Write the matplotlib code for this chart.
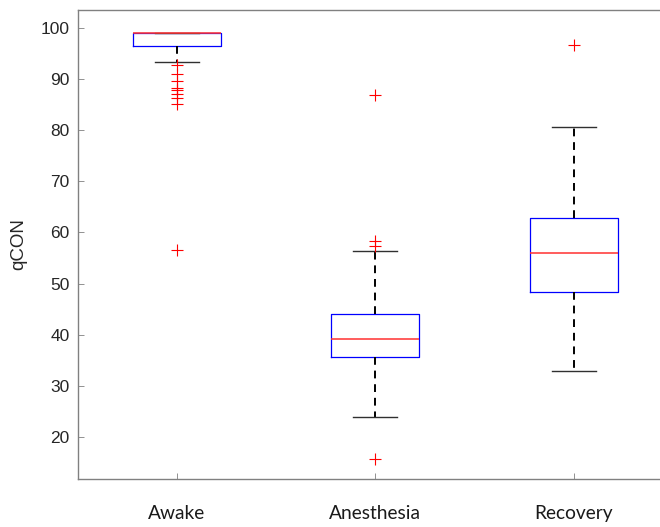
import matplotlib.pyplot as plt

plt.rcParams["font.family"] = ["Liberation Sans", "DejaVu Sans"]

# box statistics
groups = ["Awake", "Anesthesia", "Recovery"]
q1 = [96.5, 35.7, 48.4]
med = [99.0, 39.1, 55.9]
q3 = [99.0, 44.0, 62.8]
whis_lo = [93.3, 23.9, 32.9]
whis_hi = [99.0, 56.4, 80.7]
outliers = [
    [92.8, 91.0, 89.6, 88.3, 87.9, 87.0, 86.2, 85.2, 56.6],
    [86.9, 58.3, 57.4, 15.7],
    [96.7],
]
yticks = [20, 30, 40, 50, 60, 70, 80, 90, 100]

stats = []
for i, name in enumerate(groups):
    stats.append({"label": name, "q1": q1[i], "med": med[i], "q3": q3[i],
                  "whislo": whis_lo[i], "whishi": whis_hi[i], "fliers": outliers[i]})

fig = plt.figure(figsize=(6.6, 5.27), dpi=100)
ax = fig.add_axes([77.5 / 660, 48 / 527, (673 - 77.5) / 660, 469 / 527])

ax.bxp(stats, positions=[1, 2, 3], widths=0.444, capwidths=0.222,
       boxprops=dict(color="#0000ff", linewidth=0.9),
       medianprops=dict(color="#ff3030", linewidth=1.1),
       whiskerprops=dict(color="black", linewidth=1.4, linestyle=(0, (4, 3))),
       capprops=dict(color="#303030", linewidth=1.0),
       flierprops=dict(marker="+", markeredgecolor="#ff0000", markersize=9,
                       markeredgewidth=0.8, linestyle="none"))

ax.set_xlim(0.5, 3.5)
ax.set_ylim(11.8, 103.5)
ax.set_yticks(yticks)
ax.set_xticks([1, 2, 3])
ax.tick_params(axis="y", direction="in", length=4, width=0.6, color="#808080",
               pad=5.5, labelsize=12.5, labelcolor="#262626")
ax.tick_params(axis="x", direction="in", length=4, width=0.6, color="#808080", pad=19)
ax.set_xticklabels(groups, family="Lato", fontsize=13.8, color="#1a1a1a")
ax.set_ylabel("qCON", fontsize=13.5, color="#262626", labelpad=10)
for s in ax.spines.values():
    s.set_color("#808080")
    s.set_linewidth(1.0)

fig.savefig("out.png", dpi=100)
